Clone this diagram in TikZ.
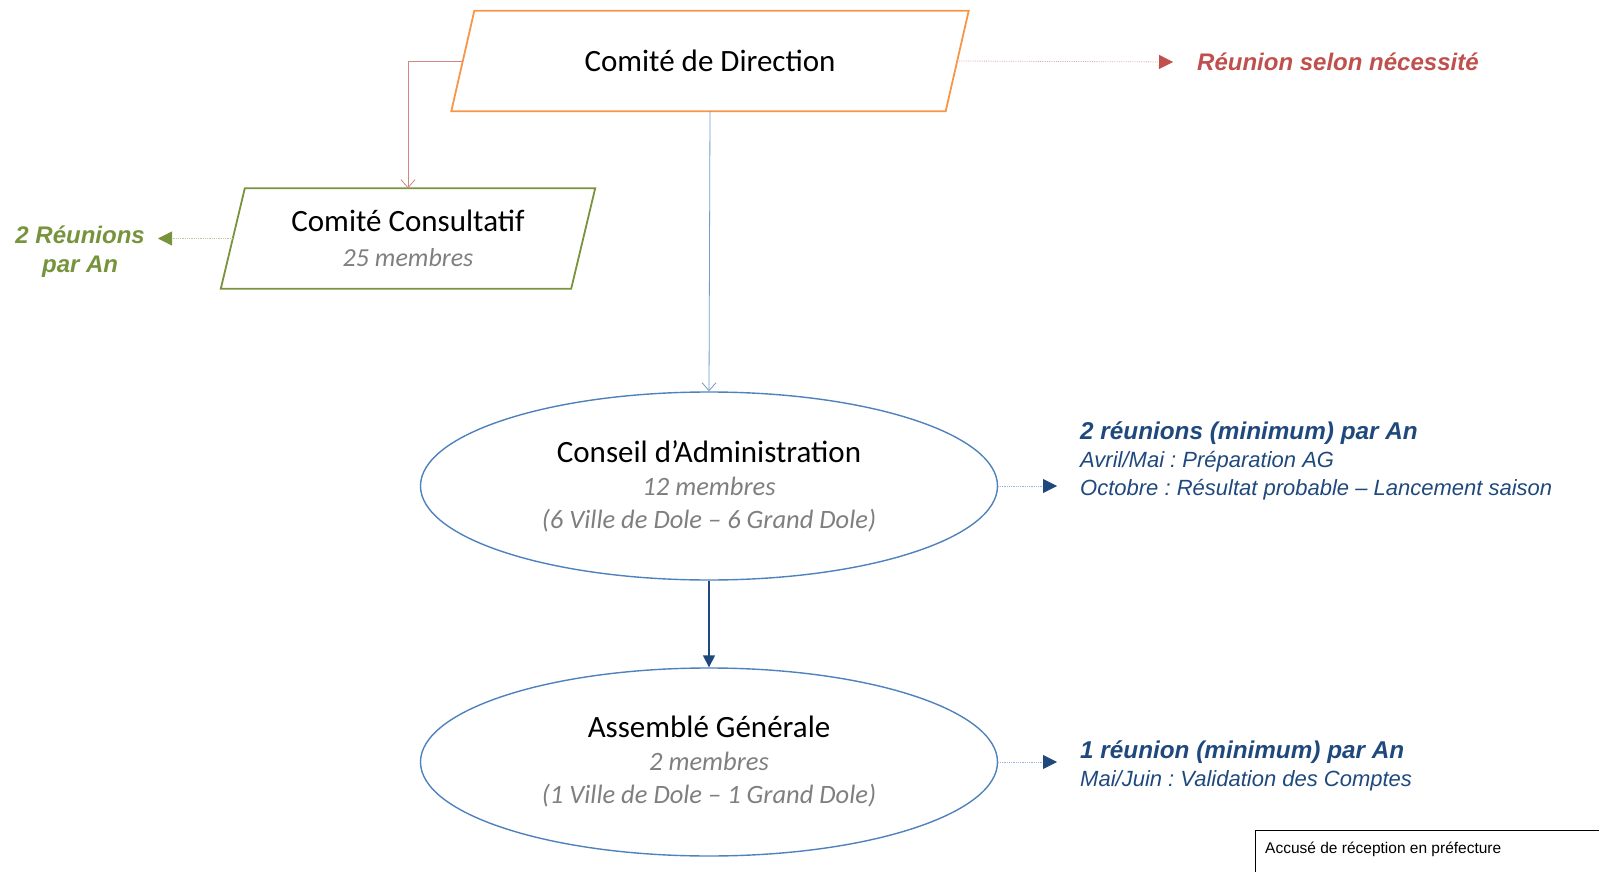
\documentclass[tikz,border=0pt]{standalone}
\usepackage{fontspec}
\setmainfont{Carlito}
\newfontfamily\arialfont{Liberation Sans}
\usetikzlibrary{shapes.geometric,arrows.meta}
\frenchspacing

\definecolor{orangecd}{HTML}{F79646}
\definecolor{vertcc}{HTML}{77933C}
\definecolor{rougecd}{HTML}{C0504D}
\definecolor{bleuca}{HTML}{4F81BD}
\definecolor{bleufonce}{HTML}{1F497D}
\definecolor{grismb}{HTML}{7F7F7F}

\tikzset{
  bloc/.style={rectangle, minimum height=100pt, inner sep=0pt, align=center},
  conseil/.style={ellipse, draw=bleuca, line width=1.4pt, minimum width=577pt,
    minimum height=188pt, inner sep=0pt, align=center,
    font=\fontsize{26.5}{33}\selectfont},
  note/.style={font=\arialfont\itshape\fontsize{22}{28}\selectfont,
    text=bleufonce, align=left, inner xsep=23pt, inner ysep=0pt},
  pointille/.style={densely dotted, line width=0.8pt},
}
\newcommand{\titrenoeud}[1]{{\fontsize{31}{33}\selectfont #1}}
\newcommand{\membres}[1]{{\color{grismb}\itshape #1}}

\begin{document}
\begin{tikzpicture}[x=1pt,y=-1pt]
  \useasboundingbox (0,0) rectangle (1599,872);

  % instances
  \node (cd) [bloc, minimum width=494pt] at (710,61)
    {\titrenoeud{Comité de Direction}};
  \node (cc) [bloc, minimum width=350pt, font=\fontsize{26}{35}\selectfont]
    at (408,238.5) {\titrenoeud{Comité Consultatif}\\\membres{25 membres}};
  \foreach \n/\c/\d in {cd/orangecd/11.5pt, cc/vertcc/12pt}
    \draw [\c, line width=1.8pt] ([xshift=-\d]\n.south west) -- ([xshift=-\d]\n.south east)
      -- ([xshift=\d]\n.north east) -- ([xshift=\d]\n.north west) -- cycle;

  \node (ca) [conseil] at (709,486)
    {\titrenoeud{Conseil d’Administration}\\\membres{12 membres}\\
     \membres{(6 Ville de Dole – 6 Grand Dole)}};
  \node (ag) [conseil] at (709,762)
    {\titrenoeud{Assemblé Générale}\\\membres{2 membres}\\
     \membres{(1 Ville de Dole – 1 Grand Dole)}};

  % frequences des reunions
  \node (ncd) [anchor=west, inner xsep=24pt, text=rougecd,
    font=\arialfont\bfseries\itshape\fontsize{24}{28}\selectfont] at (1173,62)
    {Réunion selon nécessité};
  \node (ncc) [anchor=east, inner xsep=13pt, text=vertcc, align=center,
    font=\arialfont\bfseries\itshape\fontsize{24}{29}\selectfont] at (158,252)
    {2 Réunions\\par An};
  \node (nca) [note, anchor=west] at (1057,461)
    {{\bfseries\fontsize{24.3}{28}\selectfont 2 réunions (minimum) par An}\\
     Avril/Mai : Préparation AG\\
     Octobre : Résultat probable – Lancement saison};
  \node (nag) [note, anchor=west] at (1057,766)
    {{\bfseries\fontsize{24.3}{28}\selectfont 1 réunion (minimum) par An}\\
     Mai/Juin : Validation des Comptes};

  % liens
  \draw [rougecd!70, line width=0.8pt, -{Straight Barb[length=8pt,width=14pt]}]
    (cd.west) -| (cc.north);
  \draw [bleuca!80, line width=0.8pt, -{Straight Barb[length=8pt,width=14pt]}]
    (cd.south) -- (ca.north);
  \draw [bleufonce, line width=1.6pt, -{Triangle[length=12pt,width=12pt]}]
    (ca.south) -- (ag.north);

  \draw [pointille, rougecd!50, -{Triangle[length=14pt,width=14pt,color=rougecd]}]
    (cd.east) -- (ncd.west);
  \draw [pointille, vertcc!50, -{Triangle[length=14pt,width=14pt,color=vertcc]}]
    (cc.west) -- (ncc.east |- cc.west);
  \draw [pointille, bleuca!60, -{Triangle[length=14pt,width=14pt,color=bleufonce]}]
    (ca.east) -- (ca.east -| nca.west);
  \draw [pointille, bleuca!60, -{Triangle[length=14pt,width=14pt,color=bleufonce]}]
    (ag.east) -- (ag.east -| nag.west);

  % tampon prefecture
  \node (arp) [anchor=west, inner sep=0pt,
    font=\arialfont\fontsize{15.5}{18}\selectfont] at (1265,849)
    {Accusé de réception en préfecture};
  \draw [line width=1pt] (1599,830) -| (1255,872);
\end{tikzpicture}
\end{document}
